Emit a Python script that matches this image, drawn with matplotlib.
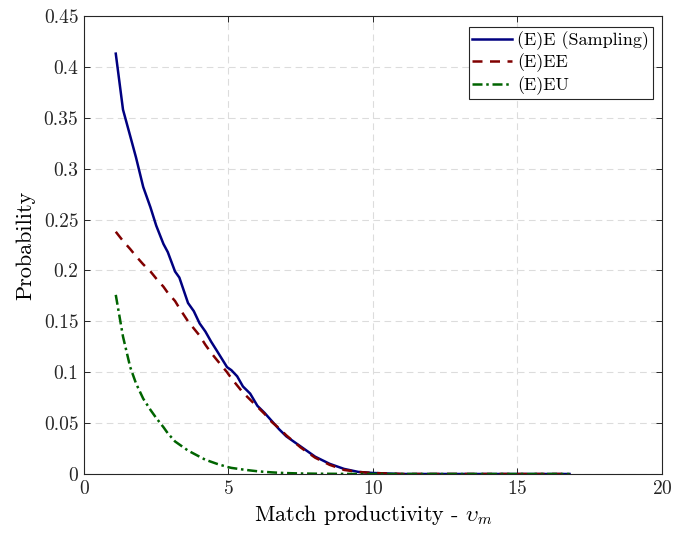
import numpy as np
import matplotlib
matplotlib.use("Agg")
import matplotlib.pyplot as plt

plt.rcParams['font.family'] = 'serif'
plt.rcParams['font.serif'] = ['cmr10']
plt.rcParams['mathtext.fontset'] = 'cm'
plt.rcParams['axes.formatter.use_mathtext'] = True

# match productivity grid
x = [1.1, 1.35, 1.6, 1.8, 2.05, 2.3, 2.5, 2.75, 2.9, 3.15, 3.3, 3.6, 3.8, 4.0, 4.2, 4.4, 4.6,
     4.95, 5.1, 5.3, 5.5, 5.75, 6.0, 6.25, 6.5, 6.75, 7.0, 7.5, 8.0, 8.5, 9.0, 9.5, 10.0,
     11.0, 12.0, 13.0, 14.0, 15.0, 16.0, 16.8]

# (E)E (Sampling)
p_sampling = [0.413, 0.358, 0.332, 0.311, 0.282, 0.262, 0.244, 0.226, 0.218, 0.199, 0.193, 0.168,
              0.160, 0.148, 0.140, 0.130, 0.121, 0.105, 0.102, 0.096, 0.086, 0.079, 0.067, 0.060,
              0.052, 0.044, 0.037, 0.027, 0.017, 0.010, 0.005, 0.002, 0.001,
              0.0, 0.0, 0.0, 0.0, 0.0, 0.0, 0.0]

# (E)EE
p_ee = [0.238, 0.229, 0.221, 0.214, 0.206, 0.199, 0.192, 0.184, 0.178, 0.170, 0.163, 0.150,
        0.143, 0.136, 0.127, 0.119, 0.112, 0.100, 0.094, 0.087, 0.080, 0.073, 0.066, 0.059,
        0.051, 0.045, 0.038, 0.026, 0.016, 0.009, 0.004, 0.002, 0.001,
        0.0, 0.0, 0.0, 0.0, 0.0, 0.0, 0.0]

# (E)EU
p_eu = [0.176, 0.135, 0.105, 0.089, 0.074, 0.063, 0.055, 0.046, 0.040, 0.032, 0.029, 0.023,
        0.020, 0.017, 0.014, 0.012, 0.010, 0.007, 0.006, 0.0052, 0.0044, 0.0035, 0.0027, 0.0021,
        0.0016, 0.0012, 0.0009, 0.0005, 0.0003, 0.0002, 0.0001, 0.0, 0.0,
        0.0, 0.0, 0.0, 0.0, 0.0, 0.0, 0.0]

fig = plt.figure(figsize=(6.74, 5.33), dpi=100)
ax = fig.add_axes([0.1246, 0.1107, 0.8576, 0.8593])

ax.plot(x, p_sampling, color='#000080', lw=1.8, label='(E)E (Sampling)')
ax.plot(x, p_ee, color='#800000', lw=1.8, ls=(0, (4, 3)), label='(E)EE')
ax.plot(x, p_eu, color='#006400', lw=1.8, ls=(0, (4, 1.5, 1, 1.5)), label='(E)EU')

ax.set_xlim(0, 20)
ax.set_ylim(0, 0.45)
ax.set_xticks([0, 5, 10, 15, 20])
ax.set_yticks(np.arange(0, 0.46, 0.05))
ax.set_yticklabels(['0', '0.05', '0.1', '0.15', '0.2', '0.25', '0.3', '0.35', '0.4', '0.45'])

ax.grid(True, color='#dcdcdc', ls=(0, (6, 4)), lw=0.8)
ax.set_axisbelow(True)
for s in ax.spines.values():
    s.set_color('#262626')
    s.set_linewidth(0.8)
ax.tick_params(direction='in', top=True, right=True, labelsize=14, colors='#262626',
               length=4, width=0.7, pad=4)

ax.set_xlabel(r'Match productivity - $\upsilon_m$', fontsize=16, labelpad=4)
ax.set_ylabel('Probability', fontsize=16, labelpad=6)

leg = ax.legend(loc='upper right', bbox_to_anchor=(0.984, 0.975), fontsize=13,
                fancybox=False, framealpha=1, edgecolor='#262626', borderpad=0.2,
                labelspacing=0.22, handlelength=2.2, handletextpad=0.3, borderaxespad=0)
leg.get_frame().set_linewidth(0.8)

fig.savefig('out.png', dpi=100)
